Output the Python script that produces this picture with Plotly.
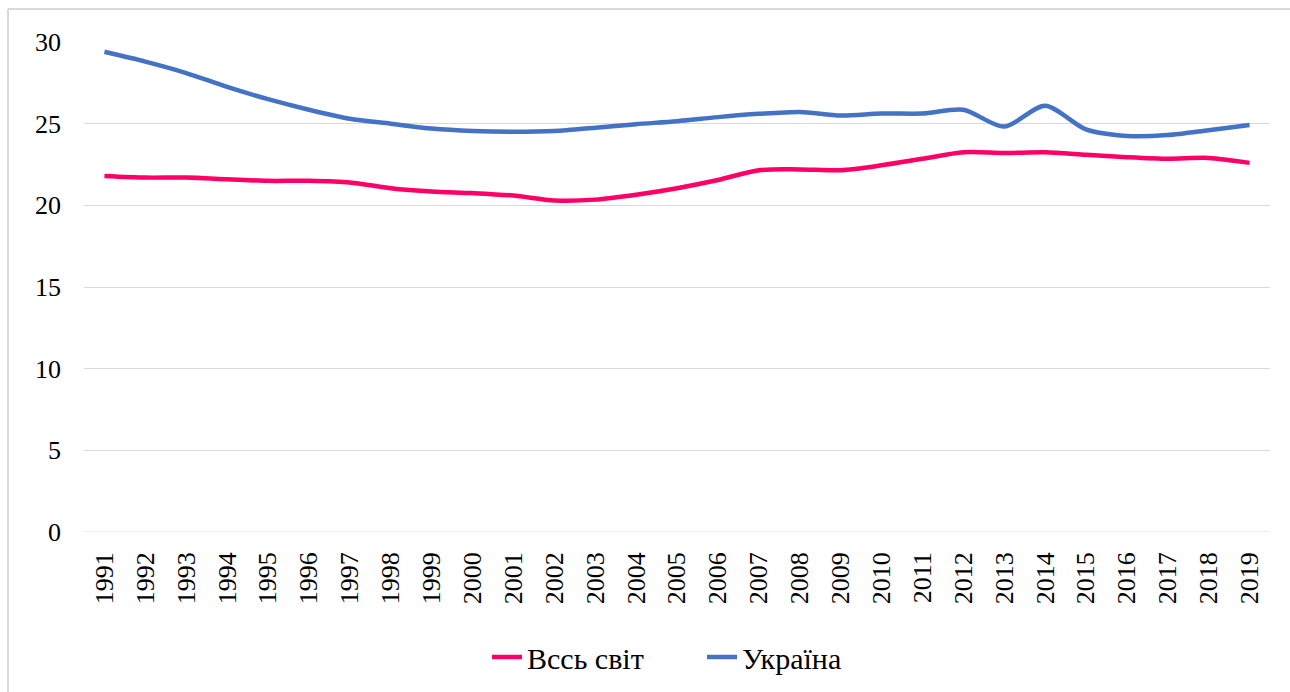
import plotly.graph_objects as go

years = [str(y) for y in range(1991, 2020)]
world = [21.8, 21.7, 21.7, 21.6, 21.5, 21.5, 21.4, 21.05, 20.85, 20.75, 20.6, 20.3, 20.35, 20.65,
         21.05, 21.55, 22.15, 22.2, 22.15, 22.45, 22.85, 23.25, 23.2, 23.25, 23.1, 22.95, 22.85, 22.9, 22.6]
ukraine = [29.4, 28.8, 28.1, 27.25, 26.5, 25.85, 25.3, 25.0, 24.7, 24.55, 24.5, 24.55, 24.75, 24.97,
           25.15, 25.4, 25.6, 25.72, 25.5, 25.62, 25.62, 25.85, 24.82, 26.1, 24.65, 24.25, 24.3, 24.6, 24.92]
yticks = [0, 5, 10, 15, 20, 25, 30]
series_names = ["Всєь світ".replace("є", "с"), "Україна"]

font = "Liberation Serif, Times New Roman, serif"

W, H = 1290, 692
L, R, T, B = 84, 20, 42, 160
pw, ph = W - L - R, H - T - B

fig = go.Figure()
fig.add_trace(go.Scatter(x=years, y=world, name=series_names[0], mode="lines",
                         line=dict(color="#FF0066", width=4.5, shape="spline", smoothing=0.8)))
fig.add_trace(go.Scatter(x=years, y=ukraine, name=series_names[1], mode="lines",
                         line=dict(color="#4472C4", width=4.5, shape="spline", smoothing=0.8)))

fig.update_layout(
    width=W, height=H,
    margin=dict(l=L, r=R, t=T, b=B, autoexpand=False),
    paper_bgcolor="white", plot_bgcolor="white",
    font=dict(family=font, size=26, color="black"),
    showlegend=True,
    legend=dict(orientation="h", x=(702 - L) / pw, xanchor="center",
                y=-(657 - T - ph) / ph, yanchor="middle", entrywidth=170,
                font=dict(family=font, size=30, color="black"), tracegroupgap=0),
    xaxis=dict(type="category", tickangle=-90, showgrid=False, showline=False, ticks="",
               range=[-0.5, 28.5], ticklabelstandoff=14, tickfont=dict(family=font, size=26)),
    yaxis=dict(range=[0, 30], tickvals=yticks, showgrid=True, gridcolor="#D9D9D9", gridwidth=1,
               zeroline=False, showline=False, ticks="", ticklabelstandoff=22,
               tickfont=dict(family=font, size=26)),
    shapes=[
        dict(type="line", xref="paper", yref="paper", x0=(8 - L) / pw, x1=1.2,
             y0=1 + (T - 9) / ph, y1=1 + (T - 9) / ph,
             line=dict(color="#D9D9D9", width=2)),
        dict(type="line", xref="paper", yref="paper", x0=(8 - L) / pw, x1=(8 - L) / pw,
             y0=1 + (T - 9) / ph, y1=-0.5,
             line=dict(color="#D9D9D9", width=2)),
    ],
)
fig.add_shape(type="line", xref="x", yref="y", x0=-0.5, x1=28.5, y0=0, y1=0,
              line=dict(color="#D9D9D9", width=1), layer="below")

fig.write_html("out.html", config={"displayModeBar": False},
               post_script="document.body.style.margin='0';document.body.style.overflow='hidden';")
